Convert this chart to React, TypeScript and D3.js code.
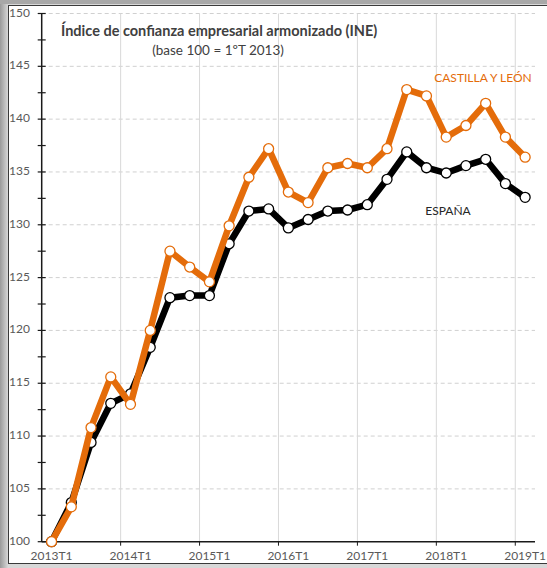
import React, { useEffect, useRef } from "react";
import * as d3 from "d3";

const quarters = [
  "2013T1", "2013T2", "2013T3", "2013T4",
  "2014T1", "2014T2", "2014T3", "2014T4",
  "2015T1", "2015T2", "2015T3", "2015T4",
  "2016T1", "2016T2", "2016T3", "2016T4",
  "2017T1", "2017T2", "2017T3", "2017T4",
  "2018T1", "2018T2", "2018T3", "2018T4",
  "2019T1",
];

const castillaLeon = [
  100, 103.3, 110.8, 115.6, 113.0, 120.0, 127.5, 126.0, 124.6, 129.9,
  134.5, 137.2, 133.1, 132.1, 135.4, 135.8, 135.4, 137.2, 142.8, 142.2,
  138.3, 139.4, 141.5, 138.3, 136.4,
];

const espana = [
  100, 103.7, 109.4, 113.1, 114.0, 118.4, 123.1, 123.3, 123.3, 128.2,
  131.3, 131.5, 129.7, 130.5, 131.3, 131.4, 131.9, 134.3, 136.9, 135.4,
  134.9, 135.6, 136.2, 133.9, 132.6,
];

const yTicks = [100, 105, 110, 115, 120, 125, 130, 135, 140, 145, 150];

const ORANGE = "#E46C0A";
const FONT = "Lato, 'Open Sans', sans-serif";

export default function App() {
  const ref = useRef<SVGSVGElement>(null);

  useEffect(() => {
    document.body.style.margin = "0";
    const svg = d3.select(ref.current);
    svg.selectAll("*").remove();

    const w = 547, h = 568;
    const left = 41.7, right = 535, top = 13.5, bottom = 541.7;

    // frame
    const defs = svg.append("defs");
    const grad = defs.append("linearGradient").attr("id", "frameGrad")
      .attr("x1", 0).attr("x2", 1).attr("y1", 0).attr("y2", 0);
    grad.append("stop").attr("offset", "0%").attr("stop-color", "#9a9a9a");
    grad.append("stop").attr("offset", "1.5%").attr("stop-color", "#d8d8d8");
    grad.append("stop").attr("offset", "100%").attr("stop-color", "#d8d8d8");
    svg.append("rect").attr("width", w).attr("height", h).attr("fill", "url(#frameGrad)");
    svg.append("rect").attr("x", 0).attr("y", 0).attr("width", w).attr("height", 4).attr("fill", "#a8a8a8");
    svg.append("rect")
      .attr("x", 8.5).attr("y", 5.5).attr("width", w).attr("height", 558)
      .attr("fill", "#fff").attr("stroke", "#3a3a3a").attr("stroke-width", 1);

    const x = d3.scaleBand().domain(quarters).range([left, right]);
    const cx = (d: string) => (x(d) as number) + x.bandwidth() / 2;
    const y = d3.scaleLinear().domain([100, 150]).range([bottom, top]);

    const g = svg.append("g");

    // horizontal dashed gridlines
    g.selectAll(".hgrid")
      .data(yTicks.slice(1))
      .enter()
      .append("line")
      .attr("x1", left).attr("x2", right)
      .attr("y1", (d) => y(d)).attr("y2", (d) => y(d))
      .attr("stroke", "#d0d0d0").attr("stroke-dasharray", "4,3");

    // vertical gridlines every 4 quarters
    const yearQ = quarters.filter((_, i) => i % 4 === 0 && i > 0);
    g.selectAll(".vgrid")
      .data(yearQ)
      .enter()
      .append("line")
      .attr("x1", (d) => x(d) as number).attr("x2", (d) => x(d) as number)
      .attr("y1", top).attr("y2", bottom)
      .attr("stroke", "#d9d9d9").attr("stroke-width", 1);

    // x axis line + ticks
    g.append("line")
      .attr("x1", left).attr("x2", right)
      .attr("y1", bottom).attr("y2", bottom)
      .attr("stroke", "#1a1a1a").attr("stroke-width", 1.5);
    g.selectAll(".xtick")
      .data(yearQ)
      .enter()
      .append("line")
      .attr("x1", (d) => x(d) as number).attr("x2", (d) => x(d) as number)
      .attr("y1", bottom).attr("y2", bottom + 4)
      .attr("stroke", "#1a1a1a");

    // y axis
    g.append("line")
      .attr("x1", left).attr("x2", left)
      .attr("y1", top).attr("y2", bottom)
      .attr("stroke", "#1a1a1a").attr("stroke-width", 1.5);
    const minor = d3.range(100, 150.1, 2.5);
    g.selectAll(".ytick")
      .data(minor)
      .enter()
      .append("line")
      .attr("x1", left - 4).attr("x2", left + 4)
      .attr("y1", (d) => y(d)).attr("y2", (d) => y(d))
      .attr("stroke", "#1a1a1a").attr("stroke-width", 1.2);

    g.selectAll(".ylab")
      .data(yTicks)
      .enter()
      .append("text")
      .attr("x", 30).attr("y", (d) => y(d))
      .attr("text-anchor", "end").attr("dominant-baseline", "middle")
      .attr("font-family", FONT).attr("font-size", 12).attr("fill", "#595959")
      .text((d) => d);

    g.selectAll(".xlab")
      .data(quarters.filter((_, i) => i % 4 === 0))
      .enter()
      .append("text")
      .attr("x", (d) => cx(d)).attr("y", 557)
      .attr("text-anchor", "middle").attr("dominant-baseline", "middle")
      .attr("font-family", FONT).attr("font-size", 12).attr("fill", "#595959")
      .text((d) => d);

    const line = d3.line<number>()
      .x((_, i) => cx(quarters[i]))
      .y((d) => y(d));

    const series = [
      { values: espana, color: "#000" },
      { values: castillaLeon, color: ORANGE },
    ];

    series.forEach((s) => {
      g.append("path")
        .datum(s.values)
        .attr("d", line)
        .attr("fill", "none")
        .attr("stroke", s.color)
        .attr("stroke-width", 6.5)
        .attr("stroke-linejoin", "round");
      g.selectAll(null)
        .data(s.values)
        .enter()
        .append("circle")
        .attr("cx", (_, i) => cx(quarters[i]))
        .attr("cy", (d) => y(d))
        .attr("r", 5)
        .attr("fill", "#fff")
        .attr("stroke", s.color)
        .attr("stroke-width", 1.3);
    });

    // titles
    svg.append("text")
      .attr("x", 61).attr("y", 36)
      .attr("font-family", FONT).attr("font-size", 14.5).attr("font-weight", "bold")
      .attr("fill", "#404040")
      .text("Índice de confianza empresarial armonizado (INE)");
    svg.append("text")
      .attr("x", 218).attr("y", 55)
      .attr("text-anchor", "middle")
      .attr("font-family", FONT).attr("font-size", 13.5).attr("fill", "#404040")
      .text("(base 100 = 1ºT 2013)");

    svg.append("text")
      .attr("x", 483).attr("y", 82)
      .attr("text-anchor", "middle")
      .attr("font-family", FONT).attr("font-size", 12).attr("fill", ORANGE)
      .text("CASTILLA Y LEÓN");
    svg.append("text")
      .attr("x", 448).attr("y", 215)
      .attr("text-anchor", "middle")
      .attr("font-family", FONT).attr("font-size", 12).attr("fill", "#262626")
      .text("ESPAÑA");
  }, []);

  return (
    <svg ref={ref} width={547} height={568} style={{ display: "block" }}></svg>
  );
}
